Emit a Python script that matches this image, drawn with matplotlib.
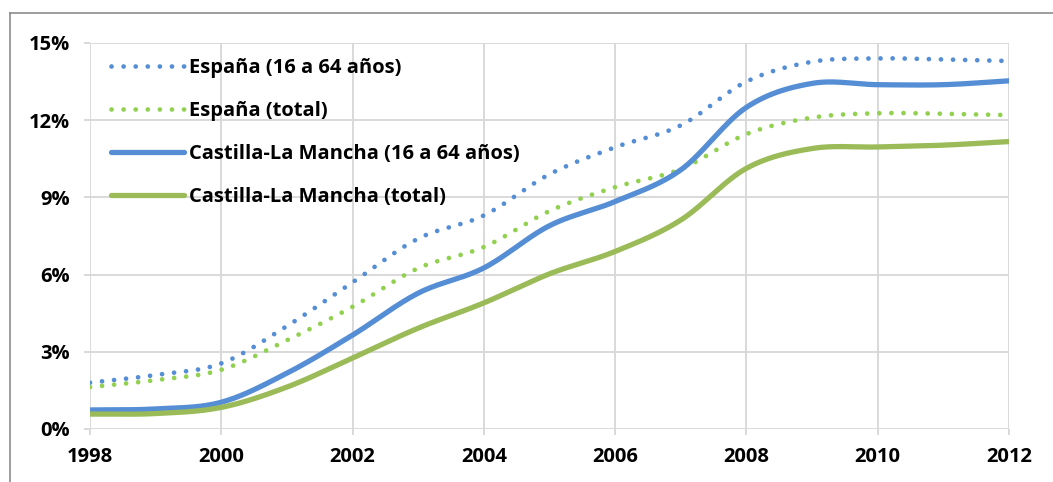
import numpy as np
import matplotlib.pyplot as plt
from matplotlib.lines import Line2D

years = [1998, 1999, 2000, 2001, 2002, 2003, 2004, 2005, 2006, 2007, 2008, 2009, 2010, 2011, 2012]
espana_16_64 = [1.8, 2.1, 2.55, 4.0, 5.7, 7.4, 8.3, 9.9, 10.95, 11.8, 13.5, 14.27, 14.4, 14.36, 14.3]
espana_total = [1.63, 1.9, 2.3, 3.45, 4.75, 6.25, 7.07, 8.47, 9.4, 10.1, 11.46, 12.1, 12.27, 12.25, 12.2]
clm_16_64 = [0.74, 0.78, 1.04, 2.17, 3.65, 5.28, 6.26, 7.9, 8.84, 10.07, 12.5, 13.43, 13.38, 13.38, 13.53]
clm_total = [0.58, 0.6, 0.84, 1.63, 2.76, 3.92, 4.9, 6.03, 6.9, 8.12, 10.13, 10.9, 10.96, 11.03, 11.17]

labels = ["España (16 a 64 años)", "España (total)",
          "Castilla-La Mancha (16 a 64 años)", "Castilla-La Mancha (total)"]
xticks = [1998, 2000, 2002, 2004, 2006, 2008, 2010, 2012]
yticks = [0, 3, 6, 9, 12, 15]

BLUE = "#558ED5"
GREEN_DOT = "#92D050"
GREEN = "#9BBB59"
GRID = "#D9D9D9"


def smooth(x, y, n=30):
    # Catmull-Rom curve through the points, like Excel's "smoothed line"
    x = np.asarray(x, float)
    y = np.asarray(y, float)
    px = np.concatenate([[2 * x[0] - x[1]], x, [2 * x[-1] - x[-2]]])
    py = np.concatenate([[2 * y[0] - y[1]], y, [2 * y[-1] - y[-2]]])
    xs, ys = [], []
    t = np.linspace(0, 1, n, endpoint=False)
    for i in range(1, len(px) - 2):
        for p, out in ((px, xs), (py, ys)):
            p0, p1, p2, p3 = p[i - 1], p[i], p[i + 1], p[i + 2]
            out.append(0.5 * ((2 * p1) + (-p0 + p2) * t
                              + (2 * p0 - 5 * p1 + 4 * p2 - p3) * t ** 2
                              + (-p0 + 3 * p1 - 3 * p2 + p3) * t ** 3))
    xs.append([x[-1]])
    ys.append([y[-1]])
    return np.concatenate(xs), np.concatenate(ys)


plt.rcParams['font.family'] = ['Open Sans', 'DejaVu Sans']
plt.rcParams['font.weight'] = 'bold'

fig = plt.figure(figsize=(10.53, 4.82), dpi=100)
ax = fig.add_axes([90 / 1053, 1 - 429 / 482, 919 / 1053, 386 / 482])

dot_lw = 3.4
dots = (0, (0.01, 2.55))
series = [
    (espana_16_64, BLUE, dot_lw, dots),
    (espana_total, GREEN_DOT, dot_lw, dots),
    (clm_16_64, BLUE, 3.8, '-'),
    (clm_total, GREEN, 3.8, '-'),
]
for (vals, col, lw, ls), lab in zip(series, labels):
    sx, sy = smooth(years, vals)
    ax.plot(sx, sy, color=col, lw=lw, linestyle=ls, dash_capstyle='round',
            solid_capstyle='round', label=lab)

ax.set_xlim(1998, 2012)
ax.set_ylim(0, 15)
ax.set_xticks(xticks)
ax.set_yticks(yticks)
ax.set_yticklabels([f"{v}%" for v in yticks])
ax.grid(True, color=GRID, lw=1.4)
ax.set_axisbelow(True)
for s in ax.spines.values():
    s.set_visible(False)
ax.tick_params(axis='both', colors=GRID, length=4.5, width=1.4, labelsize=14.5,
               labelcolor='black')
ax.tick_params(axis='x', pad=8.5)
ax.tick_params(axis='y', pad=10)
for t in ax.get_xticklabels() + ax.get_yticklabels():
    t.set_fontweight('bold')

leg = ax.legend(loc='upper left', bbox_to_anchor=(0.01, 0.992), frameon=False,
                fontsize=14.5, handlelength=3.6, handletextpad=0.25,
                labelspacing=1.14, borderaxespad=0.2)
for t in leg.get_texts():
    t.set_fontweight('bold')

# outer chart frame
fig.add_artist(Line2D([10 / 1053, 10 / 1053], [0, 1 - 13 / 482], color="#8C8C8C", lw=1.2))
fig.add_artist(Line2D([10 / 1053, 1], [1 - 13 / 482, 1 - 13 / 482], color="#8C8C8C", lw=1.2))

fig.savefig("out.png", dpi=100)
